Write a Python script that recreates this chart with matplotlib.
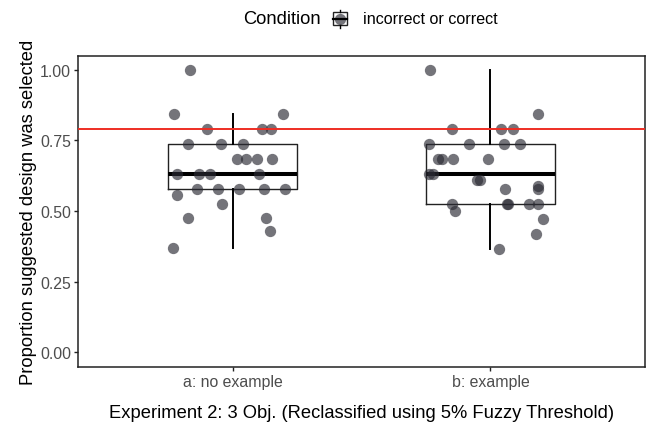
import numpy as np
import matplotlib
matplotlib.use("Agg")
import matplotlib.pyplot as plt
from matplotlib.patches import Rectangle

plt.rcParams['font.family'] = ['Liberation Sans', 'DejaVu Sans']

# data
groups = ["a: no example", "b: example"]
threshold = 0.789

a_y = [1.0, 0.842, 0.842, 0.789, 0.789, 0.789, 0.737, 0.737, 0.737,
       0.684, 0.684, 0.684, 0.684, 0.632, 0.632, 0.632, 0.632,
       0.579, 0.579, 0.579, 0.579, 0.579, 0.557, 0.526, 0.474, 0.474,
       0.428, 0.368]
a_jit = [-0.167, -0.229, 0.193, -0.101, 0.115, 0.148, -0.176, -0.046, 0.040,
         0.015, 0.051, 0.095, 0.153, -0.218, -0.133, -0.087, 0.101,
         -0.140, -0.058, 0.025, 0.119, 0.201, -0.216, -0.043, -0.174, 0.128,
         0.145, -0.234]

b_y = [1.0, 0.842, 0.789, 0.789, 0.789, 0.737, 0.737, 0.737, 0.737,
       0.684, 0.684, 0.684, 0.684, 0.632, 0.632, 0.611, 0.611,
       0.579, 0.590, 0.579, 0.526, 0.499, 0.526, 0.526, 0.526, 0.526,
       0.472, 0.420, 0.366]
b_jit = [-0.235, 0.183, -0.149, 0.042, 0.086, -0.238, -0.084, 0.052, 0.113,
         -0.203, -0.189, -0.144, -0.009, -0.238, -0.222, -0.052, -0.039,
         0.056, 0.185, 0.183, -0.149, -0.136, 0.063, 0.069, 0.148, 0.183,
         0.204, 0.178, 0.034]

W, H = 646, 427
fig = plt.figure(figsize=(W / 100, H / 100), dpi=100)
ax = fig.add_axes([78.3 / W, 1 - 367.5 / H, (645 - 78.3) / W, (367.5 - 56.7) / H])

# boxes
ax.boxplot([a_y, b_y], positions=[1, 2], widths=0.5, showfliers=False,
           showcaps=False,
           boxprops=dict(color='#222222', linewidth=1.0),
           whiskerprops=dict(color='black', linewidth=1.4),
           medianprops=dict(color='black', linewidth=2.9, solid_capstyle='butt'),
           zorder=2)

# jittered points
pt_col = '#2a2a33'
ax.scatter(1 + np.array(a_jit), a_y, s=66, color=pt_col, alpha=0.65,
           linewidths=0, zorder=3)
ax.scatter(2 + np.array(b_jit), b_y, s=66, color=pt_col, alpha=0.65,
           linewidths=0, zorder=3)

ax.axhline(threshold, color='#ee2e24', linewidth=1.4, zorder=4)

ax.set_xlim(0.4, 2.6)
ax.set_ylim(-0.05, 1.05)
ax.set_xticks([1, 2])
ax.set_xticklabels(groups)
ax.set_yticks([0, 0.25, 0.5, 0.75, 1.0])
ax.set_yticklabels(["0.00", "0.25", "0.50", "0.75", "1.00"])
ax.tick_params(axis='both', length=2.9, width=1.0, color='#222222',
               labelcolor='#4d4d4d', labelsize=11.4)
ax.tick_params(axis='x', pad=2.5)
ax.tick_params(axis='y', pad=2.4)
for s in ax.spines.values():
    s.set_linewidth(1.1)
    s.set_color('#222222')

ax.set_ylabel("Proportion suggested design was selected", fontsize=13.2)
ax.yaxis.set_label_coords(-0.073, 0.5)
ax.set_xlabel("Experiment 2: 3 Obj. (Reclassified using 5% Fuzzy Threshold)",
              fontsize=13.2)
ax.xaxis.set_label_coords(0.5, -0.121)

# legend on top
fig.text(243 / W, 1 - 20 / H, "Condition", fontsize=13.2, va='center', ha='left')
fig.text(363 / W, 1 - 20 / H, "incorrect or correct", fontsize=11.6,
         va='center', ha='left')
lax = fig.add_axes([330 / W, 1 - 31 / H, 20 / W, 22 / H])
lax.set_xlim(330, 350)
lax.set_ylim(31, 9)
lax.axis('off')
lax.scatter([340], [19.7], s=66, color=pt_col, alpha=0.65, linewidths=0, zorder=1)
lax.add_patch(Rectangle((333, 13.3), 14.3, 12.7, fill=False,
                        edgecolor='#222222', linewidth=1.0, zorder=2))
lax.plot([340, 340], [10.7, 13.3], color='black', linewidth=1.0)
lax.plot([340, 340], [26, 29.3], color='black', linewidth=1.0)
lax.plot([333, 347.3], [19.7, 19.7], color='black', linewidth=1.6)

fig.savefig("out.png", dpi=100)
